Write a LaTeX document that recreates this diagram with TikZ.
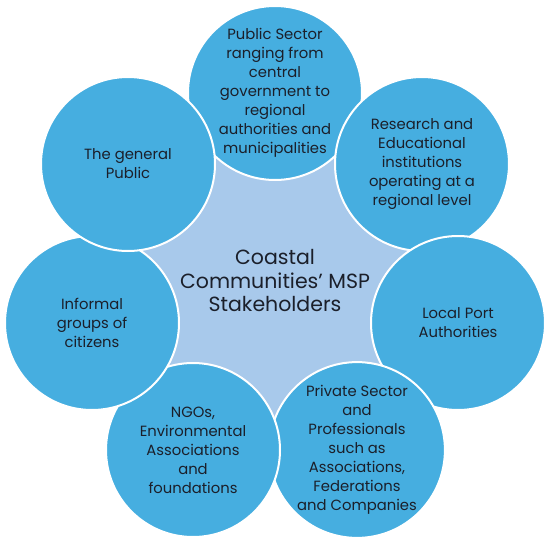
\documentclass[tikz,border=0pt]{standalone}
\usepackage{fontspec}
\setmainfont{Poppins}
\definecolor{outerblue}{HTML}{46AEE0}
\definecolor{innerblue}{HTML}{A8C9EB}
\definecolor{txt}{HTML}{1B1F2A}
\begin{document}
\begin{tikzpicture}[x=1pt,y=-1pt,
  outer/.style={circle,fill=outerblue,draw=white,line width=2pt,minimum size=174pt,inner sep=0pt,
    align=center,text=txt,font=\fontsize{14.8}{19}\selectfont},
  inner/.style={circle,fill=innerblue,draw=white,line width=2pt,minimum size=296pt,inner sep=0pt,
    align=center,text=txt,font=\fontsize{20.5}{23.5}\selectfont}]
\useasboundingbox (0,0) rectangle (550,546);
\node[inner] (c) at (275,281) {Coastal\\Communities’ MSP\\Stakeholders};
\node[outer] (n0) at (275,93) {Public Sector\\ranging from\\central\\government to\\regional\\authorities and\\municipalities};
\node[outer] (n1) at (422,164) {Research and\\Educational\\institutions\\operating at a\\regional level};
\node[outer] (n2) at (458,323) {Local Port\\Authorities};
\node[outer] (n3) at (357,450) {Private Sector\\and\\Professionals\\such as\\Associations,\\Federations\\and Companies};
\node[outer] (n4) at (193,450) {NGOs,\\Environmental\\Associations\\and\\foundations};
\node[outer] (n5) at (92,323) {Informal\\groups of\\citizens};
\node[outer] (n6) at (128,164) {The general\\Public};
\end{tikzpicture}
\end{document}
